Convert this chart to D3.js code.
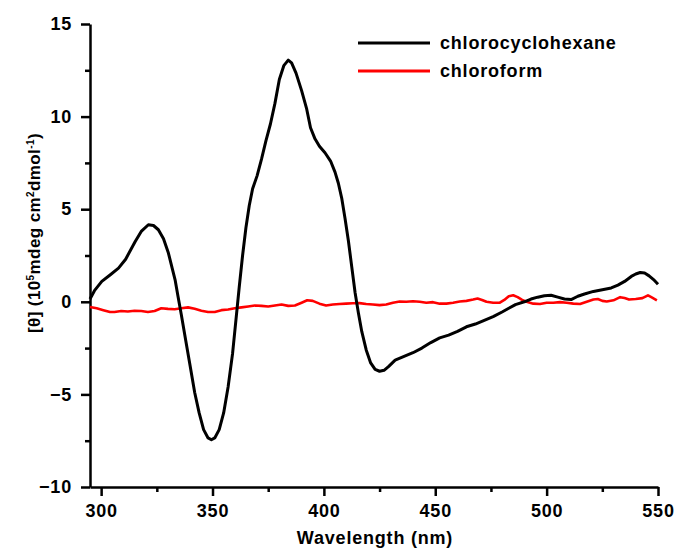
<!DOCTYPE html>
<html>
<head>
<meta charset="utf-8">
<script src="https://cdn.jsdelivr.net/npm/d3@7"></script>
<style>
  html, body { margin: 0; padding: 0; background: #fff; }
  svg { display: block; font-family: "Liberation Sans", Arial, sans-serif; }
</style>
</head>
<body>
<svg id="chart" width="675" height="548"></svg>
<script>
// CD spectra: molar ellipticity vs wavelength in two solvents
const seriesNames = ["chlorocyclohexane", "chloroform"];
const seriesColors = ["#000000", "#ff0000"];

const cyclohexaneWavelength = [295, 297, 300.3, 304, 307.8, 311, 315.3, 318, 321.2, 323.5, 325.7, 328, 330.2, 333.2, 334.5, 336, 338, 340, 342, 344, 346, 348, 349.5, 351, 353, 355, 357, 359, 360.5, 362, 363.5, 365, 366.5, 368, 370, 372, 374, 376, 378, 380, 382, 384, 385.5, 387.5, 390, 392.3, 394, 396, 398, 400.5, 403, 405, 406.5, 408, 409.5, 411, 412.5, 414, 415.5, 417, 419, 421, 423, 425, 427, 429, 432, 436, 440, 444, 448, 452, 456, 460, 464, 468, 472, 476, 480, 483, 486, 490, 493, 496, 499, 502, 505, 508, 511, 514, 517, 521, 525, 529, 532, 535, 538, 540, 542, 544, 546, 548, 550];
const cyclohexaneTheta = [0.15, 0.6, 1.1, 1.45, 1.82, 2.3, 3.26, 3.8, 4.16, 4.12, 3.89, 3.4, 2.63, 1.19, 0.3, -0.7, -2.1, -3.5, -4.9, -6.0, -6.9, -7.35, -7.45, -7.35, -6.9, -6.0, -4.6, -2.8, -1.0, 0.8, 2.5, 4.0, 5.2, 6.1, 6.8, 7.7, 8.7, 9.6, 10.7, 12.0, 12.75, 13.05, 12.9, 12.35, 11.4, 10.4, 9.4, 8.8, 8.4, 8.05, 7.6, 7.0, 6.4, 5.6, 4.5, 3.3, 1.9, 0.5, -0.6, -1.6, -2.6, -3.3, -3.65, -3.75, -3.7, -3.5, -3.15, -2.95, -2.75, -2.5, -2.2, -1.95, -1.8, -1.6, -1.35, -1.2, -1.0, -0.8, -0.55, -0.35, -0.15, 0.0, 0.15, 0.25, 0.33, 0.35, 0.25, 0.15, 0.12, 0.3, 0.42, 0.56, 0.65, 0.75, 0.9, 1.1, 1.37, 1.5, 1.58, 1.55, 1.4, 1.2, 0.95];

const chloroformWavelength = [295, 298, 301, 304, 306, 309, 312, 315, 318, 321, 324, 327, 330, 333, 336, 339, 342, 345, 348, 351, 354, 357, 360, 363, 366, 369, 372, 375, 378, 381, 384, 387, 390, 392.5, 395, 398, 401, 404, 407, 410, 413, 416, 419, 422, 425, 428, 431, 434, 437, 440, 443, 446, 449, 452, 455, 458, 461, 464, 467, 469, 471, 473, 476, 479, 481, 483, 485, 487, 489, 491, 494, 497, 500, 503, 506, 509, 512, 515, 518, 521, 523, 525, 527, 530, 533, 535, 537, 540, 543, 545.5, 547, 549.5];
const chloroformTheta = [-0.28, -0.35, -0.45, -0.55, -0.55, -0.5, -0.52, -0.48, -0.5, -0.55, -0.5, -0.35, -0.38, -0.4, -0.35, -0.3, -0.38, -0.48, -0.55, -0.55, -0.45, -0.42, -0.35, -0.3, -0.25, -0.2, -0.22, -0.25, -0.2, -0.15, -0.22, -0.2, -0.05, 0.08, 0.05, -0.1, -0.2, -0.15, -0.12, -0.1, -0.08, -0.07, -0.12, -0.15, -0.18, -0.15, -0.05, 0.02, 0.0, 0.03, 0.0, -0.05, -0.02, -0.1, -0.1, -0.05, 0.02, 0.05, 0.12, 0.18, 0.1, 0.0, -0.05, -0.05, 0.1, 0.3, 0.35, 0.25, 0.1, 0.0, -0.1, -0.12, -0.05, -0.05, -0.02, -0.05, -0.1, -0.12, 0.0, 0.12, 0.15, 0.05, 0.02, 0.08, 0.25, 0.2, 0.12, 0.15, 0.2, 0.35, 0.25, 0.08];

const xMajorTicks = [300, 350, 400, 450, 500, 550];
const xMinorTicks = [325, 375, 425, 475, 525];
const yMajorTicks = [-10, -5, 0, 5, 10, 15];
const yMinorTicks = [-7.5, -2.5, 2.5, 7.5, 12.5];

const svg = d3.select("#chart");
const plotLeft = 90, plotRight = 658, plotTop = 24, plotBottom = 487;

const x = d3.scaleLinear().domain([295, 550]).range([plotLeft, plotRight]);
const y = d3.scaleLinear().domain([-10, 15]).range([plotBottom, plotTop]);

const axisStroke = 2.5;
const labelFont = g => g
  .style("font-family", "'Liberation Sans', Arial, sans-serif")
  .style("font-weight", "bold")
  .style("font-size", "18px")
  .style("letter-spacing", "0.8px")
  .attr("fill", "#000");

// x axis: labelled major ticks plus short unlabelled minor ticks
const gx = svg.append("g").attr("transform", `translate(0,${plotBottom})`);
gx.call(d3.axisBottom(x).tickValues(xMinorTicks).tickSize(5).tickFormat(""));
gx.call(g => g.select(".domain").remove());
const gx2 = svg.append("g").attr("transform", `translate(0,${plotBottom})`);
gx2.call(d3.axisBottom(x).tickValues(xMajorTicks).tickSize(9).tickSizeOuter(0).tickPadding(8).tickFormat(d3.format("d")));

const gy = svg.append("g").attr("transform", `translate(${plotLeft},0)`);
gy.call(d3.axisLeft(y).tickValues(yMinorTicks).tickSize(5).tickFormat(""));
gy.call(g => g.select(".domain").remove());
const gy2 = svg.append("g").attr("transform", `translate(${plotLeft},0)`);
gy2.call(d3.axisLeft(y).tickValues(yMajorTicks).tickSize(9).tickSizeOuter(0).tickPadding(9).tickFormat(d3.format("d")));

svg.selectAll(".domain, .tick line")
  .attr("stroke", "#000").attr("stroke-width", axisStroke);
svg.selectAll(".tick text").call(labelFont);

// axis titles
svg.append("text")
  .attr("x", 375)
  .attr("y", 544)
  .attr("text-anchor", "middle")
  .call(labelFont)
  .text("Wavelength (nm)");

const yTitle = svg.append("text")
  .attr("transform", `translate(40,233) rotate(-90)`)
  .attr("text-anchor", "middle")
  .style("font-size", "17px").style("font-weight", "bold")
  .style("letter-spacing", "0.4px");
yTitle.append("tspan").text("[θ] (10");
yTitle.append("tspan").attr("dy", -6).style("font-size", "10px").text("5");
yTitle.append("tspan").attr("dy", 6).text("mdeg cm");
yTitle.append("tspan").attr("dy", -6).style("font-size", "10px").text("2");
yTitle.append("tspan").attr("dy", 6).text("dmol");
yTitle.append("tspan").attr("dy", -6).style("font-size", "10px").text("-1");
yTitle.append("tspan").attr("dy", 6).text(")");

// spectra
const line = d3.line().x(d => x(d[0])).y(d => y(d[1]));
const seriesData = [
  d3.zip(cyclohexaneWavelength, cyclohexaneTheta),
  d3.zip(chloroformWavelength, chloroformTheta)
];
const plot = svg.append("g");
// chloroform first so the chlorocyclohexane trace sits on top where they cross
[1, 0].forEach(i => {
  plot.append("path")
    .datum(seriesData[i])
    .attr("fill", "none")
    .attr("stroke", seriesColors[i])
    .attr("stroke-width", i === 0 ? 3 : 2.6)
    .attr("stroke-linejoin", "round")
    .attr("d", line);
});

// legend
const legend = svg.append("g");
seriesNames.forEach((name, i) => {
  const ly = 43 + i * 28;
  legend.append("line")
    .attr("x1", 358).attr("x2", 430).attr("y1", ly).attr("y2", ly)
    .attr("stroke", seriesColors[i]).attr("stroke-width", 3);
  legend.append("text")
    .attr("x", 440).attr("y", ly + 6)
    .call(labelFont)
    .text(name);
});
</script>
</body>
</html>
